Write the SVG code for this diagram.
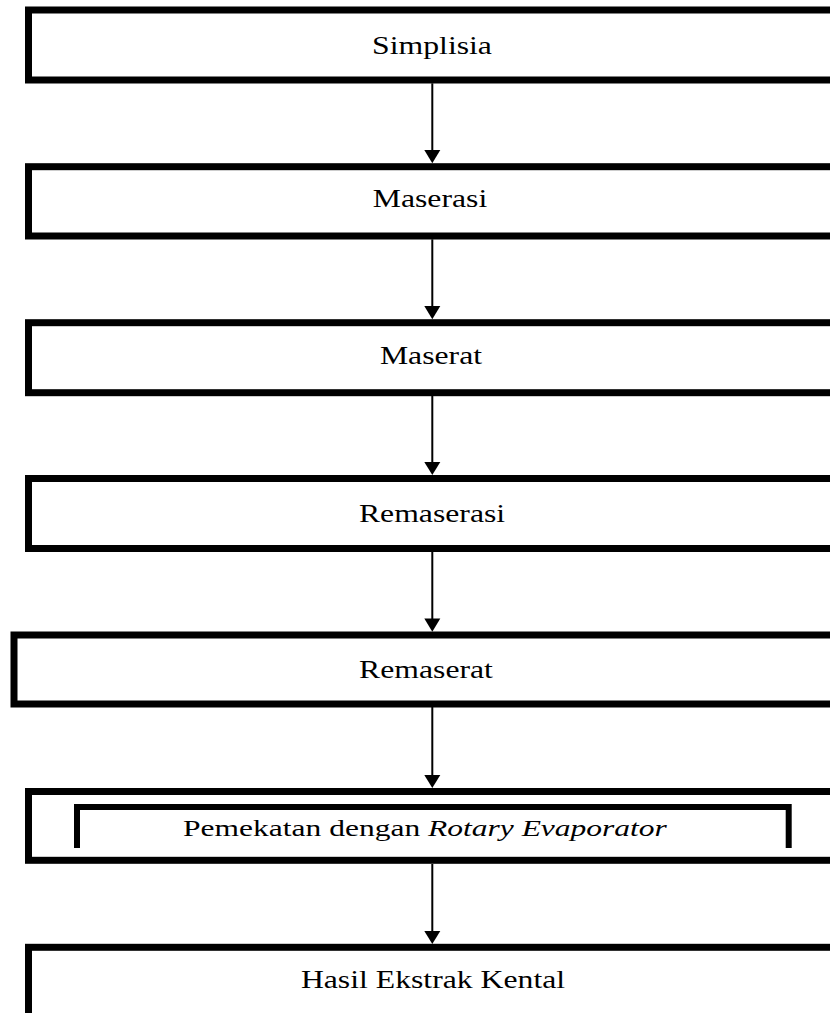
<svg xmlns="http://www.w3.org/2000/svg" width="830" height="1013" viewBox="0 0 830 1013">
  <style>
    .box { fill: #ffffff; stroke: #000000; stroke-width: 7; }
    .inner { fill: none; stroke: #000000; stroke-width: 6; }
    .lbl { font-family: "Liberation Serif", "Times New Roman", serif; font-size: 26px; fill: #000000; text-anchor: middle; }
    .lbl.sm { font-size: 23px; }
    .flow line { stroke: #000000; stroke-width: 2; }
    .flow polygon { fill: #000000; }
  </style>
  <rect width="830" height="1013" fill="#ffffff"/>

  <g id="simplisia">
    <rect class="box" x="28.5" y="10" width="820" height="70"/>
    <text class="lbl" transform="translate(432 54) scale(1.22 1)">Simplisia</text>
  </g>

  <g id="maserasi">
    <rect class="box" x="28.5" y="166.7" width="820" height="69.3"/>
    <text class="lbl" transform="translate(430 207) scale(1.22 1)">Maserasi</text>
  </g>

  <g id="maserat">
    <rect class="box" x="28.5" y="322.7" width="820" height="70"/>
    <text class="lbl" transform="translate(431 363.5) scale(1.22 1)">Maserat</text>
  </g>

  <g id="remaserasi">
    <rect class="box" x="28.5" y="478.5" width="820" height="70"/>
    <text class="lbl" transform="translate(432 522) scale(1.22 1)">Remaserasi</text>
  </g>

  <g id="remaserat">
    <rect class="box" x="14" y="635" width="830" height="69"/>
    <text class="lbl" transform="translate(426 678) scale(1.22 1)">Remaserat</text>
  </g>

  <g id="pemekatan">
    <rect class="box" x="28.5" y="791.5" width="820" height="68.8"/>
    <path class="inner" d="M77 848 V807 H788.7 V848"/>
    <text class="lbl sm" transform="translate(425 836) scale(1.37 1)">Pemekatan dengan <tspan font-style="italic">Rotary Evaporator</tspan></text>
  </g>

  <g id="hasil">
    <rect class="box" x="28.5" y="947.3" width="820" height="100"/>
    <text class="lbl" transform="translate(433 987.5) scale(1.22 1)">Hasil Ekstrak Kental</text>
  </g>

  <g id="connectors" class="flow">
    <line x1="432.3" y1="83.3" x2="432.3" y2="151"/>
    <polygon points="424.3,150 440.3,150 432.3,163.3"/>
    <line x1="432.3" y1="239.3" x2="432.3" y2="307"/>
    <polygon points="424.3,306 440.3,306 432.3,319.3"/>
    <line x1="432.3" y1="396" x2="432.3" y2="463"/>
    <polygon points="424.3,462 440.3,462 432.3,475"/>
    <line x1="432.3" y1="552" x2="432.3" y2="619"/>
    <polygon points="424.3,618.5 440.3,618.5 432.3,631.7"/>
    <line x1="432.3" y1="707" x2="432.3" y2="776"/>
    <polygon points="424.3,775 440.3,775 432.3,788"/>
    <line x1="432.3" y1="864" x2="432.3" y2="932"/>
    <polygon points="424.3,931 440.3,931 432.3,944"/>
  </g>
</svg>
